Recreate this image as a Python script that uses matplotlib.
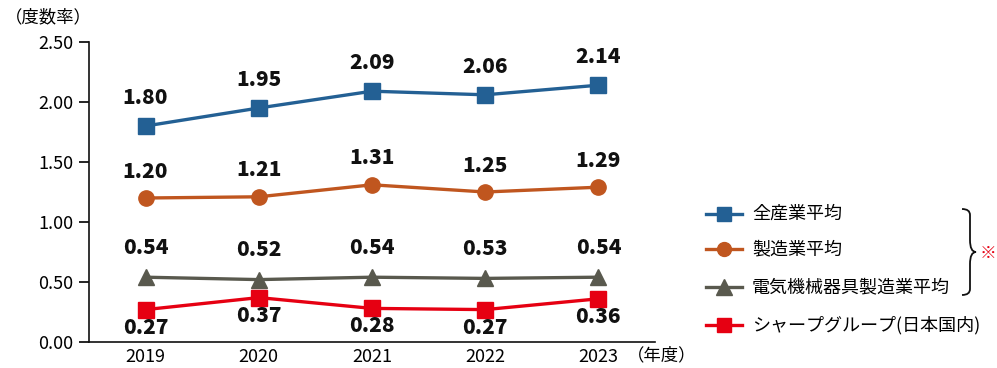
import matplotlib
matplotlib.use("Agg")
import matplotlib.pyplot as plt
from matplotlib.lines import Line2D
from matplotlib.path import Path
from matplotlib.patches import PathPatch

plt.rcParams["font.family"] = ["Noto Sans CJK JP", "DejaVu Sans"]

years = ["2019", "2020", "2021", "2022", "2023"]
all_industry = [1.80, 1.95, 2.09, 2.06, 2.14]
manufacturing = [1.20, 1.21, 1.31, 1.25, 1.29]
electrical = [0.54, 0.52, 0.54, 0.53, 0.54]
sharp = [0.27, 0.37, 0.28, 0.27, 0.36]

series_names = ["全産業平均", "製造業平均", "電気機械器具製造業平均", "シャープグループ(日本国内)"]
colors = ["#236094", "#C0561F", "#59594E", "#E60012"]
markers = ["s", "o", "^", "s"]
marker_sizes = [11, 11, 12, 11]
label_offsets = [20, 19, 21, -13]

W, H = 997, 368
fig = plt.figure(figsize=(W / 100, H / 100), dpi=100)
ax = fig.add_axes([89 / W, 26 / H, 566 / W, 300 / H])

x = list(range(len(years)))
all_series = [all_industry, manufacturing, electrical, sharp]
for vals, col, mk, ms, off in zip(all_series, colors, markers, marker_sizes, label_offsets):
    ax.plot(x, vals, color=col, lw=2.4, marker=mk, markersize=ms, zorder=3)
    for xi, v in zip(x, vals):
        ax.annotate(f"{v:.2f}", (xi, v), xytext=(0, off), textcoords="offset points",
                    ha="center", va="center", fontsize=15, fontweight=900, color="#111111")

ax.set_xlim(-0.5, 4.5)
ax.set_ylim(0, 2.5)
yt = [0, 0.5, 1.0, 1.5, 2.0, 2.5]
ax.set_yticks(yt)
ax.set_yticklabels([f"{t:.2f}" for t in yt], fontsize=13)
ax.set_xticks(x)
ax.set_xticklabels(years, fontsize=13)
ax.tick_params(axis="x", length=0, pad=4)
ax.tick_params(axis="y", length=7, width=1.2, direction="out", pad=4)
ax.spines["top"].set_visible(False)
ax.spines["right"].set_visible(False)
for s in ["left", "bottom"]:
    ax.spines[s].set_linewidth(1.2)
    ax.spines[s].set_color("#111111")

fig.text(5 / W, 1 - 17 / H, "（度数率）", fontsize=12.5, ha="left", va="center")
fig.text(627 / W, 1 - 355 / H, "（年度）", fontsize=12.5, ha="left", va="center")

# legend
leg_y = [214, 249, 287, 325]
for name, col, mk, ms, yy in zip(series_names, colors, markers, marker_sizes, leg_y):
    fy = 1 - yy / H
    fig.add_artist(Line2D([706 / W, 742 / W], [fy, fy], color=col, lw=2.4,
                          transform=fig.transFigure))
    fig.add_artist(Line2D([724 / W], [fy], color=col, marker=mk, markersize=ms - 1,
                          transform=fig.transFigure))
    fig.text(752 / W, fy, name, fontsize=13, ha="left", va="center")

# brace
pts = [(962, 209), (970, 209), (970, 215), (970, 240), (970, 252), (976, 252),
       (970, 252), (970, 264), (970, 289), (970, 295), (962, 295)]
codes = [Path.MOVETO, Path.CURVE3, Path.CURVE3, Path.LINETO, Path.CURVE3, Path.CURVE3,
         Path.CURVE3, Path.CURVE3, Path.LINETO, Path.CURVE3, Path.CURVE3]
brace = Path([(px / W, 1 - py / H) for px, py in pts], codes)
fig.add_artist(PathPatch(brace, fill=False, lw=1.3, edgecolor="#111111",
                         transform=fig.transFigure))
fig.text(988 / W, 1 - 253 / H, "※", fontsize=12, ha="center", va="center", color="#E60012")

fig.savefig("out.png", dpi=100)
